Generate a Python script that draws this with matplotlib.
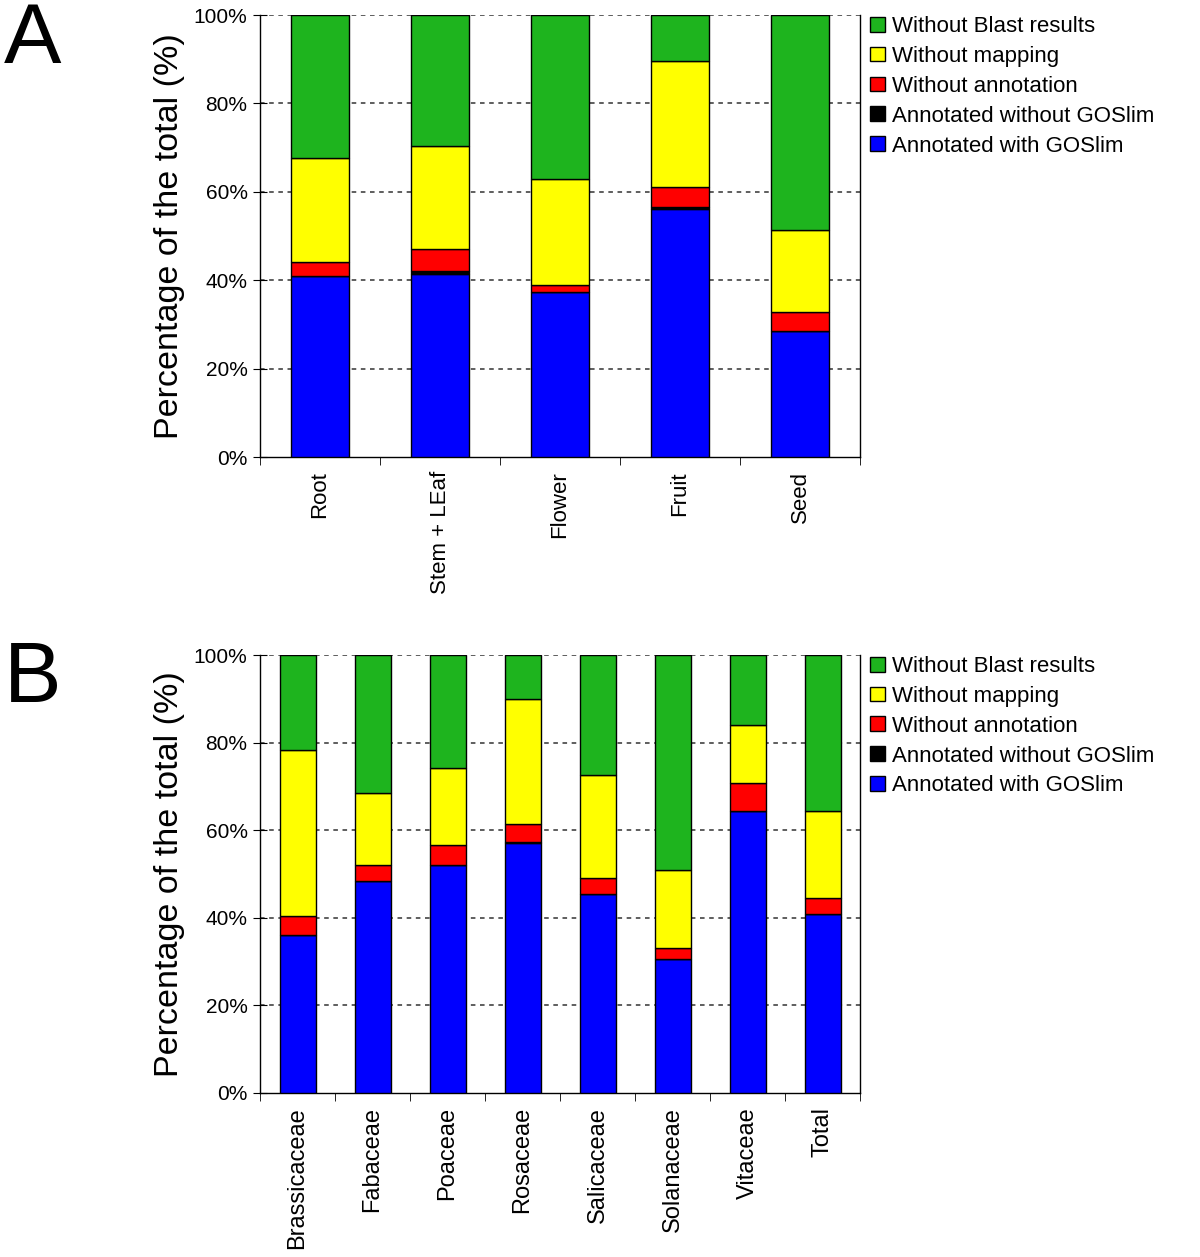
import matplotlib
matplotlib.use("Agg")
import matplotlib.pyplot as plt
import numpy as np

plt.rcParams['font.family'] = ['Liberation Sans', 'DejaVu Sans']

# Panel A - tissues
tissues = ["Root", "Stem + LEaf", "Flower", "Fruit", "Seed"]
a_goslim = [41.0, 41.5, 37.4, 56.2, 28.5]
a_no_goslim = [0.0, 0.6, 0.0, 0.3, 0.0]
a_no_annot = [3.2, 4.9, 1.5, 4.6, 4.3]
a_no_map = [23.5, 23.3, 24.1, 28.5, 18.5]

# Panel B - families
families = ["Brassicaceae", "Fabaceae", "Poaceae", "Rosaceae", "Salicaceae",
            "Solanaceae", "Vitaceae", "Total"]
b_goslim = [36.1, 48.4, 52.1, 57.1, 45.5, 30.5, 64.3, 40.9]
b_no_goslim = [0.0, 0.0, 0.0, 0.2, 0.0, 0.0, 0.0, 0.0]
b_no_annot = [4.3, 3.7, 4.5, 4.2, 3.6, 2.7, 6.5, 3.6]
b_no_map = [37.9, 16.4, 17.6, 28.4, 23.5, 17.7, 13.2, 19.8]

labels = ["Annotated with GOSlim", "Annotated without GOSlim", "Without annotation",
          "Without mapping", "Without Blast results"]
colors = ["#0000ff", "#000000", "#ff0000", "#ffff00", "#1eb41e"]


def panel(ax, cats, goslim, no_goslim, no_annot, no_map, xfs):
    x = np.arange(len(cats))
    no_blast = 100 - (np.array(goslim) + np.array(no_goslim) + np.array(no_annot) + np.array(no_map))
    series = [goslim, no_goslim, no_annot, no_map, no_blast]
    bottom = np.zeros(len(cats))
    handles = []
    for vals, col, lab in zip(series, colors, labels):
        h = ax.bar(x, vals, 0.48, bottom=bottom, color=col, edgecolor="black",
                   linewidth=1.0, label=lab, zorder=3)
        handles.append(h)
        bottom = bottom + np.array(vals)
    ax.set_xlim(-0.5, len(cats) - 0.5)
    ax.set_ylim(0, 100)
    ax.set_yticks([0, 20, 40, 60, 80, 100])
    ax.set_yticklabels([f"{v}%" for v in range(0, 101, 20)], fontsize=15)
    for v in [20, 40, 60, 80, 100]:
        ax.axhline(v, color="#333333", linestyle=(0, (3, 3)), linewidth=1.1, zorder=1)
    ax.set_xticks(x)
    ax.set_xticklabels(cats, rotation=90, fontsize=xfs)
    ax.tick_params(axis="x", length=0, pad=10)
    ax.set_xticks(np.arange(len(cats) + 1) - 0.5, minor=True)
    ax.tick_params(axis="x", which="minor", length=6, direction="out")
    ax.tick_params(axis="y", direction="inout", length=10, pad=4)
    ax.spines["top"].set_visible(False)
    for s in ["left", "bottom", "right"]:
        ax.spines[s].set_linewidth(1.0)
    ax.set_ylabel("Percentage of the total (%)", fontsize=24.5, labelpad=6)
    ax.legend(handles[::-1], labels[::-1], loc="upper left", bbox_to_anchor=(1.017, 0.998),
              frameon=False, fontsize=16, handlelength=0.65, handleheight=0.65,
              handletextpad=0.35, labelspacing=0.4, borderaxespad=0, borderpad=0)


fig = plt.figure(figsize=(12, 12.57), dpi=100)
ax1 = fig.add_axes([0.2167, 0.6364, 0.5, 0.3516])
ax2 = fig.add_axes([0.2167, 0.1305, 0.5, 0.3484])
panel(ax1, tissues, a_goslim, a_no_goslim, a_no_annot, a_no_map, 16)
panel(ax2, families, b_goslim, b_no_goslim, b_no_annot, b_no_map, 17)
fig.text(0.003, 0.967, "A", fontsize=62, va="center", ha="left")
fig.text(0.003, 0.459, "B", fontsize=62, va="center", ha="left")
fig.savefig("out.png", dpi=100)
